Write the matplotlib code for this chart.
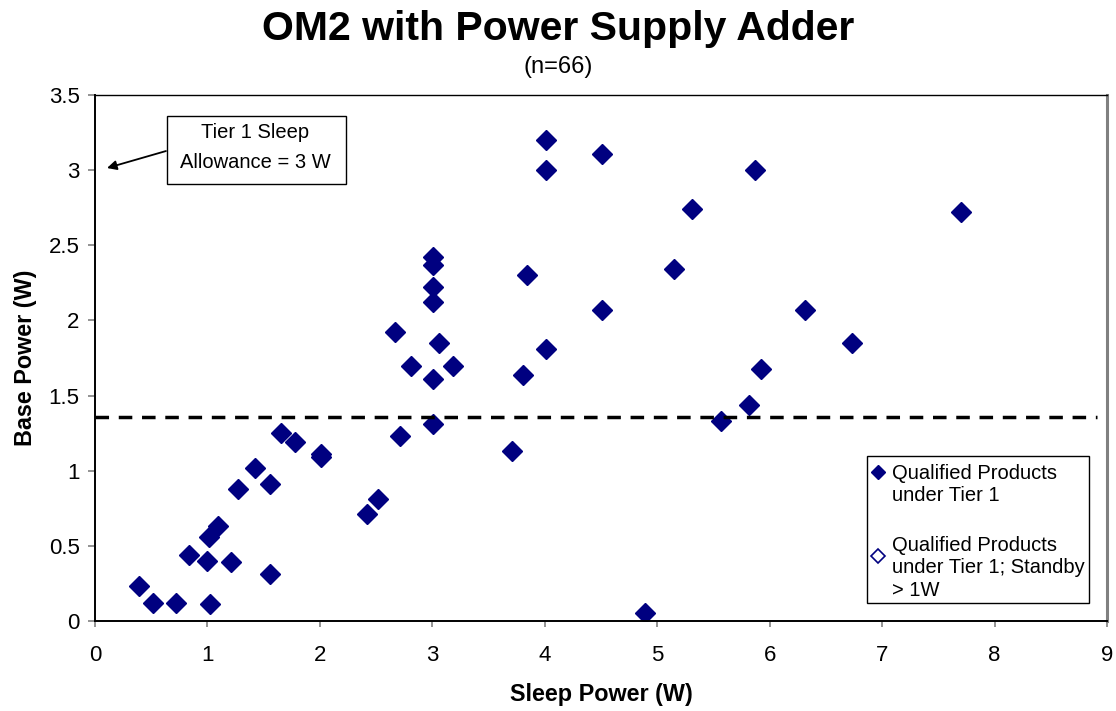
import matplotlib
matplotlib.use("Agg")
import matplotlib.pyplot as plt
from matplotlib.patches import Rectangle

plt.rcParams["font.family"] = ["Liberation Sans", "DejaVu Sans"]

# Qualified products under Tier 1 (sleep W, base W)
sleep_power = [0.39, 0.52, 0.72, 1.02, 0.84, 1.00, 1.21, 1.56, 1.01, 1.09,
               1.27, 1.42, 1.56, 1.65, 1.78, 2.01, 2.01, 2.42, 2.52, 3.01,
               3.01, 3.01, 3.01, 2.67, 3.06, 2.81, 3.18, 3.01, 3.01, 2.71,
               3.84, 4.01, 3.81, 3.71, 4.01, 4.01, 4.51, 5.31, 5.15, 4.51,
               7.70, 6.31, 6.73, 5.92, 5.82, 5.57, 5.87, 4.89]
base_power = [0.23, 0.12, 0.12, 0.11, 0.44, 0.40, 0.39, 0.31, 0.56, 0.63,
              0.88, 1.02, 0.91, 1.25, 1.19, 1.11, 1.09, 0.71, 0.81, 2.42,
              2.37, 2.22, 2.12, 1.92, 1.85, 1.70, 1.70, 1.61, 1.31, 1.23,
              2.30, 1.81, 1.64, 1.13, 3.20, 3.00, 3.11, 2.74, 2.34, 2.07,
              2.72, 2.07, 1.85, 1.68, 1.44, 1.33, 3.00, 0.05]
# Standby > 1W series has no visible points
standby_sleep = []
standby_base = []

tier1_line = 1.36
navy = "#000080"

fig = plt.figure(figsize=(11.16, 7.11), dpi=100)
ax = fig.add_axes([0.0851, 0.1266, 0.9069, 0.7398])

ax.plot(sleep_power, base_power, linestyle="none", marker="D", markersize=10,
        color=navy)
ax.plot(standby_sleep, standby_base, linestyle="none", marker="D", markersize=8,
        markerfacecolor="white", markeredgecolor=navy)
ax.axhline(tier1_line, xmin=0, xmax=0.99, color="black",
           linestyle=(0, (3.9, 2.8)), linewidth=2.5)

ax.set_xlim(0, 9)
ax.set_ylim(0, 3.5)
ax.set_xticks(range(0, 10))
ax.set_yticks([0, 0.5, 1, 1.5, 2, 2.5, 3, 3.5])
ax.set_yticklabels(["0", "0.5", "1", "1.5", "2", "2.5", "3", "3.5"])
ax.tick_params(labelsize=16, direction="out", color="gray", width=1.2)
ax.tick_params(axis="x", length=4.5, pad=13)
ax.tick_params(axis="y", length=5, pad=6)
for side in ["left", "bottom"]:
    ax.spines[side].set_color("black")
    ax.spines[side].set_linewidth(1.4)
ax.spines["top"].set_color("black")
ax.spines["top"].set_linewidth(1)
ax.spines["right"].set_color("gray")
ax.spines["right"].set_linewidth(2.2)

ax.set_xlabel("Sleep Power (W)", fontsize=16.8, fontweight="bold")
ax.set_ylabel("Base Power (W)", fontsize=16.8, fontweight="bold")
ax.xaxis.set_label_coords(0.5, -0.118)
ax.yaxis.set_label_coords(-0.057, 0.5)

fig.text(0.5, 1 - 40 / 711, "OM2 with Power Supply Adder", ha="center", va="baseline",
         fontsize=29.5, fontweight="bold")
fig.text(0.5, 1 - 67 / 711, "(n=66)", ha="center", va="center", fontsize=17)

# annotation box with arrow to the 3 W sleep allowance
ax.add_patch(Rectangle((0.640, 2.908), 2.232 - 0.640, 3.360 - 2.908, facecolor="white",
                       edgecolor="black", linewidth=1, zorder=3))
ax.text(1.427, 3.214, "Tier 1 Sleep", ha="center", va="baseline", fontsize=14.5, zorder=4)
ax.text(1.427, 3.014, "Allowance = 3 W", ha="center", va="baseline", fontsize=14.5, zorder=4)
ax.annotate("", xy=(0.107, 3.014), xytext=(0.631, 3.127),
            arrowprops=dict(arrowstyle="-|>", color="black", linewidth=1.3,
                            mutation_scale=14, shrinkA=0, shrinkB=0))

# legend drawn Excel-style, marker next to the first line of each entry
ax.add_patch(Rectangle((0.7628, 0.0342), 0.9822 - 0.7628, 0.3137 - 0.0342,
                       transform=ax.transAxes, facecolor="white", edgecolor="black",
                       linewidth=1, zorder=3))
ax.plot([0.7737], [0.2833], transform=ax.transAxes, marker="D", markersize=7.5,
        color=navy, linestyle="none", zorder=4, clip_on=False)
ax.plot([0.7737], [0.1236], transform=ax.transAxes, marker="D", markersize=7,
        markerfacecolor="white", markeredgecolor=navy, markeredgewidth=1.2,
        linestyle="none", zorder=4, clip_on=False)
legend_lines = ["Qualified Products", "under Tier 1",
                "Qualified Products", "under Tier 1; Standby", "> 1W"]
legend_y = [0.270, 0.228, 0.1331, 0.0913, 0.0475]
for txt, yy in zip(legend_lines, legend_y):
    ax.text(0.7875, yy, txt, transform=ax.transAxes, ha="left", va="baseline",
            fontsize=14.5, zorder=4)

fig.savefig("out.png", dpi=100)
